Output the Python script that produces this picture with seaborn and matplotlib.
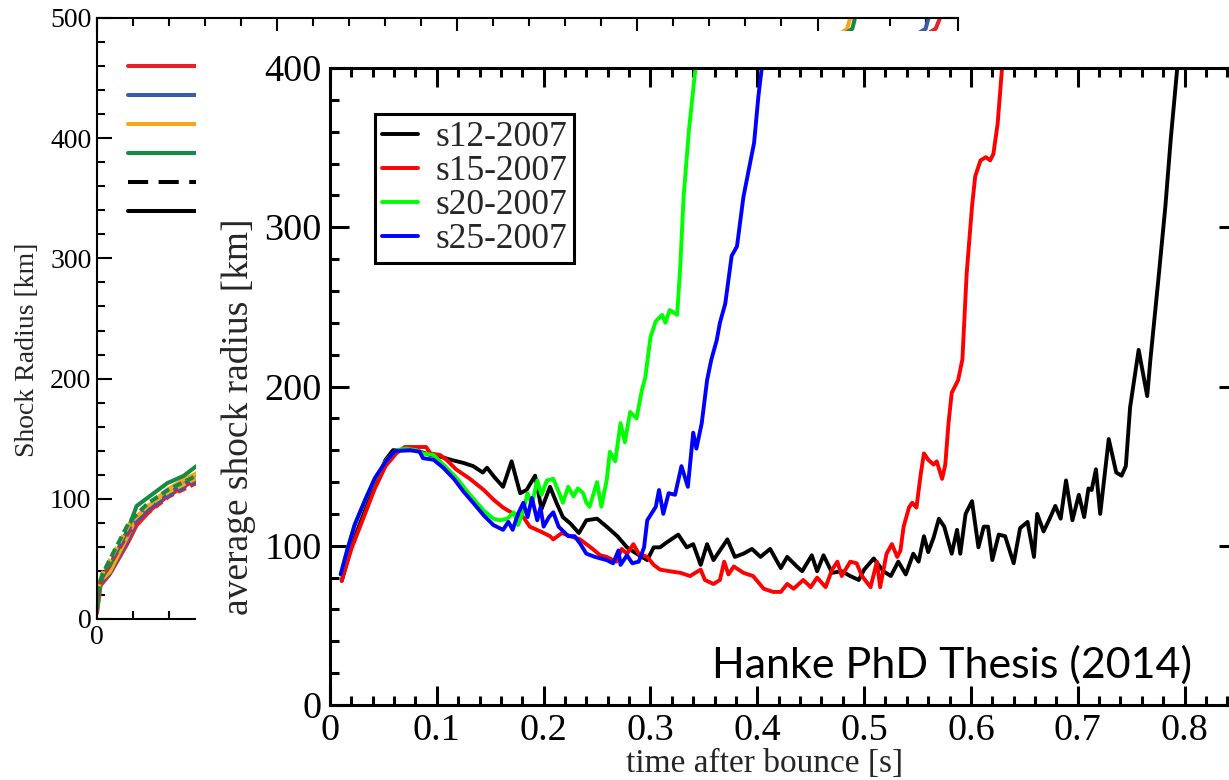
import numpy as np
import pandas as pd
import matplotlib
matplotlib.use("Agg")
import matplotlib.pyplot as plt
import matplotlib.ticker as mticker
from matplotlib.patches import Rectangle
from matplotlib.lines import Line2D
import seaborn as sns

# ---------------- average shock radius of the 2D models ----------------
# time after bounce [s] / average shock radius [km]
s12_t = [0.011, 0.020, 0.031, 0.042, 0.052, 0.059, 0.080, 0.094, 0.103, 0.113, 0.125, 0.134,
         0.143, 0.147, 0.154, 0.162, 0.170, 0.178, 0.184, 0.192, 0.198, 0.206, 0.212, 0.218,
         0.225, 0.233, 0.240, 0.250, 0.259, 0.269, 0.278, 0.287, 0.297, 0.303, 0.309, 0.315,
         0.326, 0.334, 0.340, 0.347, 0.353, 0.359, 0.365, 0.372, 0.379, 0.387, 0.395, 0.403,
         0.412, 0.422, 0.428, 0.437, 0.442, 0.451, 0.456, 0.462, 0.470, 0.479, 0.487, 0.495,
         0.500, 0.509, 0.518, 0.525, 0.532, 0.539, 0.546, 0.551, 0.556, 0.560, 0.565, 0.570,
         0.575, 0.582, 0.587, 0.590, 0.595, 0.601, 0.607, 0.612, 0.616, 0.620, 0.626, 0.632,
         0.640, 0.646, 0.653, 0.659, 0.662, 0.668, 0.673, 0.679, 0.684, 0.689, 0.695, 0.701,
         0.706, 0.710, 0.713, 0.717, 0.721, 0.729, 0.736, 0.741, 0.745, 0.749, 0.757, 0.765,
         0.768, 0.776, 0.782, 0.787, 0.793, 0.800]
s12_r = [78, 100, 119, 138, 154, 160, 160, 157, 156, 154, 152, 150,
         146, 149, 143, 137, 153, 133, 135, 144, 123, 137, 127, 118,
         114, 108, 116, 117, 112, 106, 99, 95, 91, 99, 99, 102,
         107, 99, 101, 88, 101, 91, 97, 104, 93, 95, 98, 93,
         98, 86, 93, 87, 84, 94, 84, 94, 83, 84, 81, 78.5,
         85, 92, 84, 81, 90, 82, 95, 90, 106, 96, 105, 117,
         112, 95, 110, 95, 120, 128, 99, 112, 112, 91, 107, 106,
         89, 111, 115, 93, 120, 109, 116, 125, 117, 141, 116, 132,
         118, 136, 135, 148, 120, 167, 146, 144, 150, 187, 223, 194,
         217, 271, 313, 355, 399, 445]

s15_t = [0.011, 0.020, 0.031, 0.042, 0.052, 0.062, 0.070, 0.090, 0.094, 0.103, 0.109, 0.118,
         0.131, 0.144, 0.153, 0.162, 0.172, 0.181, 0.187, 0.197, 0.206, 0.209, 0.217, 0.225,
         0.234, 0.244, 0.253, 0.259, 0.268, 0.273, 0.278, 0.284, 0.289, 0.297, 0.303, 0.309,
         0.318, 0.328, 0.337, 0.347, 0.351, 0.359, 0.365, 0.369, 0.373, 0.378, 0.387, 0.396,
         0.406, 0.415, 0.422, 0.428, 0.434, 0.443, 0.450, 0.456, 0.464, 0.470, 0.475, 0.479,
         0.487, 0.493, 0.498, 0.506, 0.512, 0.515, 0.521, 0.526, 0.531, 0.534, 0.537, 0.542,
         0.545, 0.549, 0.553, 0.556, 0.560, 0.565, 0.568, 0.573, 0.576, 0.579, 0.582, 0.588,
         0.592, 0.596, 0.601, 0.604, 0.609, 0.614, 0.618, 0.621, 0.625, 0.629, 0.636]
s15_r = [78, 98, 117, 136, 150, 158, 162, 162, 158, 157, 154, 148,
         142, 135, 129, 124, 120, 118, 112, 109, 106, 104, 108, 106,
         104, 99, 94, 93, 90, 98, 95, 101, 95, 93, 88, 85,
         84, 83, 81, 85, 78.5, 76, 78.5, 90, 82, 87, 83, 81,
         73, 71, 71, 76, 73, 78.5, 74, 80, 74, 85, 90, 81,
         90, 89, 81, 74, 90, 74, 95, 101, 93, 97, 112, 124,
         127, 124, 145, 158, 154, 151, 153, 142, 151, 177, 196, 204,
         217, 271, 313, 332, 342, 344, 342, 346, 365, 399, 450]

s20_t = [0.010, 0.016, 0.023, 0.033, 0.042, 0.052, 0.062, 0.071, 0.081, 0.087, 0.097, 0.106,
         0.118, 0.131, 0.144, 0.153, 0.159, 0.166, 0.172, 0.176, 0.180, 0.185, 0.189, 0.194,
         0.198, 0.203, 0.209, 0.214, 0.218, 0.223, 0.228, 0.232, 0.237, 0.240, 0.243, 0.250,
         0.254, 0.259, 0.262, 0.267, 0.272, 0.276, 0.281, 0.287, 0.292, 0.295, 0.300, 0.305,
         0.311, 0.314, 0.318, 0.325, 0.328, 0.331, 0.336, 0.342, 0.348]
s20_r = [82, 97, 113, 129, 142, 153, 160, 161, 160, 158, 157, 151,
         143, 132, 122, 117, 116, 117, 121, 113, 120, 133, 126, 141,
         132, 141, 142, 134, 127, 137, 131, 136, 133, 127, 124.5, 140,
         124.5, 141, 159, 153, 177, 165, 184, 180, 198, 205, 231, 241,
         245, 240, 248, 245, 277, 319, 361, 399, 440]

s25_t = [0.010, 0.016, 0.023, 0.033, 0.042, 0.052, 0.061, 0.075, 0.084, 0.087, 0.097, 0.106,
         0.116, 0.125, 0.134, 0.144, 0.153, 0.162, 0.167, 0.171, 0.176, 0.181, 0.185, 0.189,
         0.194, 0.197, 0.200, 0.205, 0.209, 0.214, 0.223, 0.229, 0.234, 0.240, 0.248, 0.259,
         0.265, 0.270, 0.272, 0.278, 0.283, 0.289, 0.294, 0.297, 0.305, 0.308, 0.312, 0.317,
         0.323, 0.329, 0.335, 0.340, 0.343, 0.348, 0.353, 0.357, 0.362, 0.365, 0.370, 0.376,
         0.381, 0.387, 0.392, 0.397, 0.401, 0.404, 0.410]
s25_r = [82, 97, 113, 129, 142.5, 152.6, 159.5, 160, 159, 155, 154, 149,
         142, 134, 127, 119, 113, 110, 115, 110, 120, 127, 118, 130,
         116, 124, 112, 118, 121, 112, 106, 106, 101.5, 95, 93, 91,
         89, 97, 88, 94, 89, 90, 99, 116, 124.5, 135, 120, 133,
         132, 150, 137, 171, 161, 177, 204, 217, 229, 240, 252, 282,
         288, 319, 336, 353, 382, 399, 440]

model_names = ["s12-2007", "s15-2007", "s20-2007", "s25-2007"]
model_colors = ["#000000", "#ff0000", "#00ff00", "#0000ff"]

main_xticks = [0, 0.1, 0.2, 0.3, 0.4, 0.5, 0.6, 0.7, 0.8]
main_yticks = [0, 100, 200, 300, 400]
credit = "Hanke PhD Thesis (2014)"

# ---------------- shock radius comparison panel (behind) ----------------
bg_t_early = [0.000, 0.002, 0.007, 0.017, 0.022, 0.030, 0.039, 0.048, 0.055]
bg_red_r = [5, 28, 37, 63, 78, 91, 102, 110, 116]
bg_blue_r = [12, 30, 38, 66, 82, 93.6, 104.7, 113, 118.6]
bg_orange_r = [10, 32, 39, 69, 85, 96, 107.5, 116, 121]
bg_green_r = [8, 33, 44, 74, 94, 103, 113, 119, 127]
bg_red_exit_t = [0.4656, 0.4683, 0.4700]
bg_blue_exit_t = [0.4600, 0.4618, 0.4635]
bg_orange_exit_t = [0.4165, 0.4183, 0.4200]
bg_green_exit_t = [0.4193, 0.4210, 0.4226]
bg_exit_r = [491, 501, 510]

bg_t_dash = [0.000, 0.003, 0.009, 0.018, 0.028, 0.040, 0.055, 0.070]
bg_red_dash_r = [18, 35, 50, 73, 88, 102, 113, 121]
bg_blue_dash_r = [20, 37, 52, 76, 91, 103, 115, 123]
bg_orange_dash_r = [22, 38, 54, 79, 94, 106, 117, 125]
bg_green_dash_r = [20, 37, 55, 81, 96, 108, 119, 127]

bg_colors = {"red": "#e8202a", "blue": "#3a5ba8", "orange": "#f8a51d", "green": "#168a40"}
bg_yticks = [0, 100, 200, 300, 400, 500]

# ---------------- figure ----------------
sns.set_theme(style="ticks")
plt.rcParams["font.family"] = ["Liberation Serif", "DejaVu Serif"]
plt.rcParams["axes.linewidth"] = 2.2

W, H = 1229, 780
fig = plt.figure(figsize=(W / 100, H / 100), dpi=100)
fig.patch.set_facecolor("white")


def box(left, top, right, bottom):
    return [left / W, 1 - bottom / H, (right - left) / W, (bottom - top) / H]


fmt_g = mticker.FuncFormatter(lambda v, p: "%g" % round(v, 3))
# only the origin label of the rear panel's time axis stays uncovered
fmt_origin = mticker.FuncFormatter(lambda v, p: "0" if abs(v) < 1e-9 else "")

# background panel
ax_bg = fig.add_axes(box(97, 18, 958, 619))
ax_bg.set_zorder(0)
for key, r_early, t_exit in [("red", bg_red_r, bg_red_exit_t), ("blue", bg_blue_r, bg_blue_exit_t),
                             ("orange", bg_orange_r, bg_orange_exit_t), ("green", bg_green_r, bg_green_exit_t)]:
    sns.lineplot(x=bg_t_early + t_exit, y=r_early + bg_exit_r, ax=ax_bg, color=bg_colors[key],
                 lw=2.9, sort=False, estimator=None, legend=False)
for key, r_dash in [("red", bg_red_dash_r), ("blue", bg_blue_dash_r),
                    ("orange", bg_orange_dash_r), ("green", bg_green_dash_r)]:
    sns.lineplot(x=bg_t_dash, y=r_dash, ax=ax_bg, color=bg_colors[key], lw=2.9,
                 linestyle=(0, (2.2, 1.2)), sort=False, estimator=None, legend=False)
ax_bg.set_xlim(0, 0.478)
ax_bg.set_ylim(0, 500)
ax_bg.xaxis.set_major_locator(mticker.MultipleLocator(0.1))
ax_bg.xaxis.set_minor_locator(mticker.MultipleLocator(0.02))
ax_bg.xaxis.set_major_formatter(fmt_origin)
ax_bg.set_yticks(bg_yticks)
ax_bg.yaxis.set_minor_locator(mticker.MultipleLocator(20))
ax_bg.tick_params(which="both", direction="in", top=True, right=True, width=1.5,
                  labelsize=20, colors="black", pad=4)
ax_bg.tick_params(which="major", length=11)
ax_bg.tick_params(which="minor", length=6)
for sp in ax_bg.spines.values():
    sp.set_linewidth(1.5)
    sp.set_color("black")
ax_bg.set_xlabel("")
ax_bg.set_ylabel("Shock Radius [km]", fontsize=20)
ax_bg.yaxis.set_label_coords(-0.066, 0.4476)
bg_handles = [Line2D([], [], color=bg_colors["red"], lw=2.9),
              Line2D([], [], color=bg_colors["blue"], lw=2.9),
              Line2D([], [], color=bg_colors["orange"], lw=2.9),
              Line2D([], [], color=bg_colors["green"], lw=2.9),
              Line2D([], [], color="black", lw=2.9, linestyle=(0, (5, 2.6))),
              Line2D([], [], color="black", lw=2.9)]
ax_bg.legend(bg_handles, [""] * 6, loc="upper left", bbox_to_anchor=(0.036, 0.937), frameon=False,
             borderaxespad=0, borderpad=0, handlelength=5, handleheight=0.7, labelspacing=0.13,
             fontsize=20)

# white sheet laid over the comparison panel
fig.add_artist(Rectangle((196 / W, 0), 1, (H - 31) / H, transform=fig.transFigure,
                         facecolor="white", edgecolor="none", zorder=1))

# main panel
ax = fig.add_axes(box(330, 68, 1238, 705))
ax.set_zorder(2)
ax.set_facecolor("white")
series = [(s12_t, s12_r), (s15_t, s15_r), (s20_t, s20_r), (s25_t, s25_r)]
for (t, r), name, col in zip(series, model_names, model_colors):
    df = pd.DataFrame({"t": t, "r": r})
    sns.lineplot(data=df, x="t", y="r", ax=ax, color=col, lw=2.8, sort=False,
                 estimator=None, legend=False)
ax.set_xlim(0, 0.85)
ax.set_ylim(0, 400)
ax.set_xticks(main_xticks)
ax.set_yticks(main_yticks)
ax.xaxis.set_major_formatter(fmt_g)
ax.xaxis.set_minor_locator(mticker.MultipleLocator(0.02))
ax.yaxis.set_minor_locator(mticker.MultipleLocator(20))
ax.tick_params(which="both", direction="in", top=True, right=True, width=2.2,
               labelsize=27.5, colors="black", pad=6)
ax.tick_params(which="major", length=14)
ax.tick_params(which="minor", length=6.5)
for sp in ax.spines.values():
    sp.set_linewidth(2.2)
    sp.set_color("black")
ax.set_xlabel("time after bounce [s]", fontsize=24)
ax.set_ylabel("average shock radius [km]", fontsize=27)
ax.xaxis.set_label_coords(0.479, -0.068)
ax.yaxis.set_label_coords(-0.081, 0.452)

leg = ax.legend(ax.get_lines()[:4], model_names, loc="upper left",
                bbox_to_anchor=(0.0496, 0.9278), borderaxespad=0, fontsize=25.5,
                handlelength=1.0, handletextpad=0.5, labelspacing=0.03, borderpad=0.2,
                frameon=True, fancybox=False, framealpha=1, edgecolor="black")
leg.get_frame().set_linewidth(2.2)

ax.text(0.949, 0.0424, credit, transform=ax.transAxes, ha="right", va="baseline",
        fontsize=31, family=["Lato", "DejaVu Sans"], color="black")

fig.savefig("out.png", dpi=100, facecolor="white")
